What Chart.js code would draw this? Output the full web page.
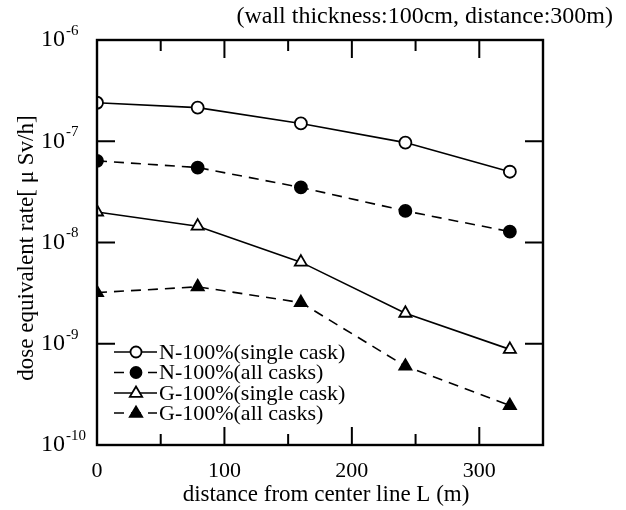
<!DOCTYPE html>
<html>
<head>
<meta charset="utf-8">
<script src="https://cdn.jsdelivr.net/npm/chart.js@4/dist/chart.umd.min.js"></script>
<style>
  html, body { margin: 0; padding: 0; background: #fff; }
  #wrap { width: 626px; height: 510px; }
</style>
</head>
<body>
<div id="wrap"><canvas id="doseChart"></canvas></div>
<script>
// distance from center line L (m)
const distances = [0, 79, 160, 242, 324];

// dose equivalent rate (uSv/h)
const nSingle = [2.4e-7, 2.15e-7, 1.5e-7, 9.7e-8, 5.0e-8];
const nAll    = [6.4e-8, 5.5e-8, 3.5e-8, 2.05e-8, 1.28e-8];
const gSingle = [2.0e-8, 1.45e-8, 6.4e-9, 2.0e-9, 8.8e-10];
const gAll    = [3.2e-9, 3.65e-9, 2.55e-9, 6.0e-10, 2.45e-10];

const seriesLabels = ["N-100%(single cask)", "N-100%(all casks)", "G-100%(single cask)", "G-100%(all casks)"];
const xTickLabels = [0, 100, 200, 300];
const yExponents = [-6, -7, -8, -9, -10];

const serif = "'Liberation Serif', 'DejaVu Serif', serif";

function toPoints(ys) {
    return distances.map((x, i) => ({ x: x, y: ys[i] }));
}

function makeDataset(label, ys, style, filled, dashed) {
    return {
        label: label,
        data: toPoints(ys),
        borderColor: "#000",
        borderWidth: 1.6,
        borderDash: dashed ? [10, 7] : [],
        pointStyle: style,
        pointRadius: style === "triangle" ? 7 : 6,
        pointBorderWidth: 1.8,
        pointBorderColor: "#000",
        pointBackgroundColor: filled ? "#000" : "#fff",
        tension: 0
    };
}

// frame, inward ticks, tick labels, titles and legend
const decorPlugin = {
    id: "decor",
    afterDraw(chart) {
        const ctx = chart.ctx;
        const area = chart.chartArea;
        const xs = chart.scales.x;
        const ys = chart.scales.y;
        ctx.save();
        ctx.strokeStyle = "#000";
        ctx.fillStyle = "#000";

        // frame
        ctx.lineWidth = 2.4;
        ctx.strokeRect(area.left, area.top, area.right - area.left, area.bottom - area.top);

        // x ticks, bottom and top
        ctx.lineWidth = 2;
        for (let v = 50; v < 350; v += 50) {
            const px = xs.getPixelForValue(v);
            const len = v % 100 === 0 ? 18 : 11;
            ctx.beginPath();
            ctx.moveTo(px, area.bottom);
            ctx.lineTo(px, area.bottom - len);
            ctx.moveTo(px, area.top);
            ctx.lineTo(px, area.top + len);
            ctx.stroke();
        }
        // y ticks, left and right
        yExponents.forEach(e => {
            if (e === -6 || e === -10) return;
            const py = ys.getPixelForValue(Math.pow(10, e));
            ctx.beginPath();
            ctx.moveTo(area.left, py);
            ctx.lineTo(area.left + 18, py);
            ctx.moveTo(area.right, py);
            ctx.lineTo(area.right - 18, py);
            ctx.stroke();
        });

        // x tick labels
        ctx.font = "22px " + serif;
        ctx.textAlign = "center";
        ctx.textBaseline = "middle";
        xTickLabels.forEach(v => {
            ctx.fillText(String(v), xs.getPixelForValue(v), area.bottom + 26);
        });
        // x title
        ctx.font = "23px " + serif;
        ctx.fillText("distance from center line L (m)", 326, 495);

        // y tick labels 10^n
        yExponents.forEach(e => {
            const py = ys.getPixelForValue(Math.pow(10, e));
            ctx.font = "24px " + serif;
            ctx.textAlign = "right";
            ctx.textBaseline = "middle";
            ctx.fillText("10", 65, py);
            ctx.font = "15px " + serif;
            ctx.textAlign = "left";
            ctx.fillText(String(e), 66, py - 9);
        });

        // y title
        ctx.save();
        ctx.translate(27, 248);
        ctx.rotate(-Math.PI / 2);
        ctx.font = "23px " + serif;
        ctx.textAlign = "center";
        ctx.textBaseline = "middle";
        ctx.fillText("dose equivalent rate[ \u03bc Sv/h]", 0, 0);
        ctx.restore();

        // note at top right
        ctx.font = "24px " + serif;
        ctx.textAlign = "right";
        ctx.textBaseline = "middle";
        ctx.fillText("(wall thickness:100cm, distance:300m)", 613, 17);

        // legend
        const rowY = [352, 372.5, 393, 413];
        chart.data.datasets.forEach((ds, i) => {
            const y = rowY[i];
            ctx.strokeStyle = "#000";
            ctx.lineWidth = ds.borderWidth;
            ctx.setLineDash(ds.borderDash);
            ctx.beginPath();
            ctx.moveTo(114, y);
            ctx.lineTo(157, y);
            ctx.stroke();
            ctx.setLineDash([]);
            ctx.fillStyle = ds.pointBackgroundColor;
            ctx.beginPath();
            const r = ds.pointRadius - 0.5;
            if (ds.pointStyle === "circle") {
                ctx.arc(136, y, r, 0, Math.PI * 2);
            } else {
                ctx.moveTo(136, y - r);
                ctx.lineTo(136 + r * 0.95, y + r * 0.6);
                ctx.lineTo(136 - r * 0.95, y + r * 0.6);
                ctx.closePath();
            }
            ctx.fill();
            ctx.lineWidth = ds.pointBorderWidth;
            ctx.stroke();
            ctx.fillStyle = "#000";
            ctx.font = "22px " + serif;
            ctx.textAlign = "left";
            ctx.textBaseline = "middle";
            ctx.fillText(ds.label, 159, y + 1);
        });
        ctx.restore();
    }
};

new Chart(document.getElementById("doseChart"), {
    type: "line",
    data: {
        datasets: [
            makeDataset(seriesLabels[0], nSingle, "circle", false, false),
            makeDataset(seriesLabels[1], nAll, "circle", true, true),
            makeDataset(seriesLabels[2], gSingle, "triangle", false, false),
            makeDataset(seriesLabels[3], gAll, "triangle", true, true)
        ]
    },
    options: {
        responsive: true,
        maintainAspectRatio: false,
        animation: false,
        layout: { padding: { left: 0, right: 83, top: 40, bottom: 0 } },
        plugins: {
            legend: { display: false },
            tooltip: { enabled: false }
        },
        scales: {
            x: {
                type: "linear",
                min: 0,
                max: 350,
                grid: { display: false },
                border: { display: false },
                ticks: { display: false },
                afterFit(scale) { scale.height = 65; }
            },
            y: {
                type: "logarithmic",
                min: 1e-10,
                max: 1e-6,
                grid: { display: false },
                border: { display: false },
                ticks: { display: false },
                afterFit(scale) { scale.width = 97; }
            }
        }
    },
    plugins: [decorPlugin]
});
</script>
</body>
</html>
